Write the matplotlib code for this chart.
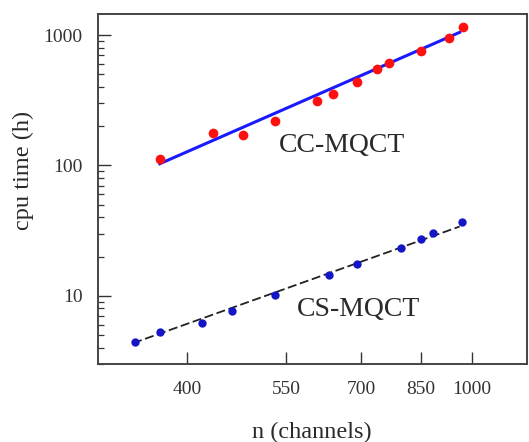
import matplotlib
matplotlib.use("Agg")
import matplotlib.pyplot as plt
from matplotlib.ticker import FixedLocator, NullFormatter, LogLocator, NullLocator

plt.rcParams['font.family'] = ['Liberation Serif', 'DejaVu Serif']

# CC-MQCT data (red)
cc_n = [366, 435, 478, 530, 608, 639, 690, 737, 765, 848, 929, 971]
cc_t = [112, 177, 171, 220, 314, 351, 438, 549, 607, 754, 944, 1158]
cc_fit_n = [366, 962]
cc_fit_t = [103, 1049]

# CS-MQCT data (blue)
cs_n = [337.5, 366, 419, 462, 531, 632, 690, 797, 848, 882, 969]
cs_t = [4.42, 5.24, 6.24, 7.71, 10.2, 14.4, 17.5, 23.2, 27.2, 30.2, 36.6]
cs_fit_n = [336, 962]
cs_fit_t = [4.34, 34]

xticks = [400, 550, 700, 850, 1000]
yticks = [10, 100, 1000]

fig = plt.figure(figsize=(5.29, 4.42), dpi=100)
ax = fig.add_axes([98/529, 1-364/442, (527-98)/529, (364-14)/442])
ax.set_xscale('log')
ax.set_yscale('log')

ax.plot(cc_fit_n, cc_fit_t, color='#1a1aff', lw=2.2, zorder=2)
ax.plot(cc_n, cc_t, 'o', color='#ff1010', ms=7, mec='none', zorder=3)
ax.plot(cs_fit_n, cs_fit_t, '--', color='#222222', lw=1.3, dashes=(5, 2), zorder=2)
ax.plot(cs_n, cs_t, 'o', color='#1515c8', ms=6, mec='none', zorder=3)

ax.set_xlim(300, 1195)
ax.set_ylim(3.0, 1450)

ax.xaxis.set_major_locator(FixedLocator(xticks))
ax.xaxis.set_minor_locator(NullLocator())
ax.set_xticklabels([str(v) for v in xticks])
ax.yaxis.set_major_locator(FixedLocator(yticks))
ax.set_yticklabels([str(v) for v in yticks])
ax.yaxis.set_minor_locator(LogLocator(base=10, subs=range(2, 10)))
ax.yaxis.set_minor_formatter(NullFormatter())

ax.tick_params(axis='both', which='major', direction='in', length=9, width=1.0,
               color='#333333', labelsize=14, labelcolor='#333333')
ax.tick_params(axis='y', which='minor', direction='in', length=4.5, width=0.9, color='#333333')
ax.tick_params(axis='y', which='major', pad=11)
ax.tick_params(axis='x', which='major', pad=12)
ax.tick_params(top=False, right=False)

for s in ax.spines.values():
    s.set_color('#444444')
    s.set_linewidth(1.4)

fig.text(342/529, 1-145/442, 'CC-MQCT', fontsize=20, color='#2a2a2a', ha='center', va='center')
fig.text(359/529, 1-310/442, 'CS-MQCT', fontsize=20, color='#2a2a2a', ha='center', va='center')

fig.text(23/529, 1-170/442, 'cpu time (h)', rotation=90, fontsize=17.5, color='#2a2a2a',
         ha='center', va='center')
fig.text(312/529, 1-432/442, 'n (channels)', fontsize=17.5, color='#2a2a2a',
         ha='center', va='center')

fig.savefig('out.png', dpi=100)
